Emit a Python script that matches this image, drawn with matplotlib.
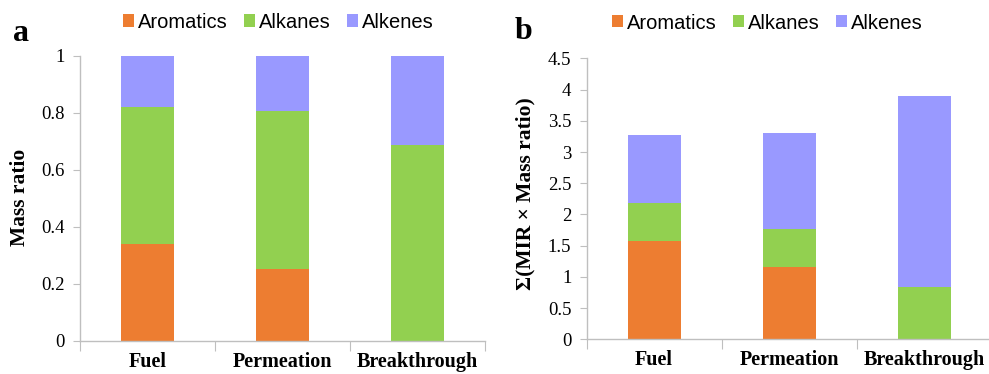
import matplotlib
matplotlib.use("Agg")
import matplotlib.pyplot as plt
import numpy as np

# Dane
kategorie = ["Fuel", "Permeation", "Breakthrough"]
serie = ["Aromatics", "Alkanes", "Alkenes"]
kolory = ["#ED7D31", "#92D050", "#9999FF"]

# a) Mass ratio
a_aromatics = [0.34, 0.25, 0.0]
a_alkanes = [0.48, 0.555, 0.685]
a_alkenes = [0.18, 0.195, 0.315]

# b) sum(MIR x Mass ratio)
b_aromatics = [1.57, 1.16, 0.0]
b_alkanes = [0.61, 0.60, 0.84]
b_alkenes = [1.09, 1.55, 3.05]

a_yticks = [0, 0.2, 0.4, 0.6, 0.8, 1]
a_ylabels = ["0", "0.2", "0.4", "0.6", "0.8", "1"]
b_yticks = [0, 0.5, 1, 1.5, 2, 2.5, 3, 3.5, 4, 4.5]
b_ylabels = ["0", "0.5", "1", "1.5", "2", "2.5", "3", "3.5", "4", "4.5"]

SERIF = "Liberation Serif"
SANS = "Liberation Sans"
SZARY = "#BFBFBF"

fig = plt.figure(figsize=(9.89, 3.74), dpi=100)
ax_a = fig.add_axes([0.0809, 0.089, 0.4095, 0.762])
ax_b = fig.add_axes([0.5932, 0.0927, 0.4095, 0.7513])


def rysuj(ax, dane, yticks, ylabels, ymax, leg_x, leg_y):
    x = np.arange(len(kategorie))
    dol = np.zeros(len(kategorie))
    slupki = []
    for wart, nazwa, kol in zip(dane, serie, kolory):
        s = ax.bar(x, wart, bottom=dol, width=0.395, color=kol, label=nazwa, zorder=2)
        slupki.append(s)
        dol = dol + np.array(wart)
    ax.set_xlim(-0.5, 2.5)
    ax.set_ylim(0, ymax)
    for sp in ["top", "right"]:
        ax.spines[sp].set_visible(False)
    for sp in ["left", "bottom"]:
        ax.spines[sp].set_color(SZARY)
        ax.spines[sp].set_linewidth(1.0)
    ax.set_yticks(yticks)
    ax.set_yticklabels(ylabels, fontfamily=SERIF, fontsize=13.5)
    ax.tick_params(axis="y", direction="out", length=5, color=SZARY, pad=6)
    # etykiety kategorii bez kresek, kreski na granicach
    ax.set_xticks([-0.5, 0.5, 1.5, 2.5])
    ax.set_xticklabels([])
    ax.tick_params(axis="x", direction="out", length=7, color=SZARY)
    ax.set_xticks(x, minor=True)
    ax.set_xticklabels(kategorie, minor=True, fontfamily=SERIF, fontsize=14.5, fontweight="bold")
    ax.tick_params(axis="x", which="minor", length=0, pad=8)
    ax.legend(handles=slupki, loc="center", bbox_to_anchor=(leg_x, leg_y), ncol=3,
              frameon=False, prop={"family": SANS, "size": 14.5},
              handlelength=0.55, handleheight=0.55, handletextpad=0.2,
              columnspacing=0.8, borderaxespad=0, borderpad=0)


rysuj(ax_a, [a_aromatics, a_alkanes, a_alkenes], a_yticks, a_ylabels, 1.0, 0.49, 1.118)
rysuj(ax_b, [b_aromatics, b_alkanes, b_alkenes], b_yticks, b_ylabels, 4.5, 0.446, 1.1256)

fig.text(0.0202, 0.472, "Mass ratio", rotation=90, ha="center", va="center",
         fontfamily=SERIF, fontsize=15.5, fontweight="bold")
fig.text(0.531, 0.481, "\u03a3(MIR \u00d7 Mass ratio)", rotation=90, ha="center", va="center",
         fontfamily=SERIF, fontsize=15.5, fontweight="bold")

fig.text(0.013, 0.91, "a", ha="left", va="center", fontfamily=SERIF, fontsize=23, fontweight="bold")
fig.text(0.520, 0.915, "b", ha="left", va="center", fontfamily=SERIF, fontsize=23, fontweight="bold")

fig.savefig("out.png", dpi=100)
